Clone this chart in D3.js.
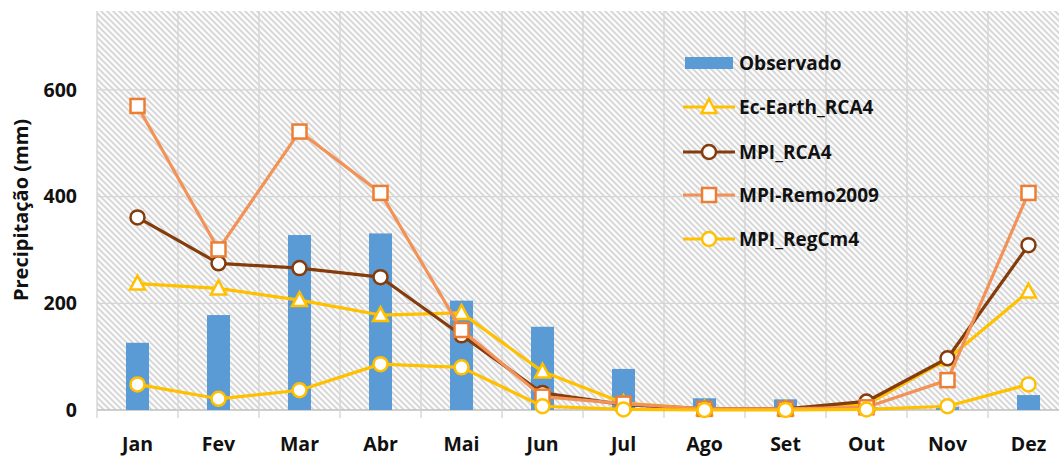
<!DOCTYPE html>
<html><head><meta charset="utf-8">
<script src="https://cdn.jsdelivr.net/npm/d3@7"></script>
<style>body{margin:0;background:#fff}svg{display:block}text{font-family:"Open Sans",sans-serif;font-weight:700;fill:#111}</style>
</head><body><svg id="c" width="1059" height="456"></svg>
<script>
const months = ["Jan","Fev","Mar","Abr","Mai","Jun","Jul","Ago","Set","Out","Nov","Dez"];
const yTicks = [0,200,400,600];
const observado = [126,178,328,331,205,156,77,22,20,5,6,28];
const ecEarth = [237,228,206,178,182,72,13,2,2,10,95,222];
const mpiRca4 = [361,275,266,249,140,32,10,2,2,16,97,309];
const mpiRemo = [570,301,522,407,150,25,12,2,2,5,56,407];
const mpiRegcm = [48,21,37,86,80,7,1,0,0,1,7,48];
const seriesNames = ["Observado","Ec-Earth_RCA4","MPI_RCA4","MPI-Remo2009","MPI_RegCm4"];

const svg = d3.select("#c");
const L=97, R=1069, T=11, B=410;
const x = d3.scaleBand().domain(months).range([L,R]);
const y = d3.scaleLinear().domain([0,748]).range([B,T]);

const defs = svg.append("defs");
const pat = defs.append("pattern").attr("id","hatch").attr("patternUnits","userSpaceOnUse").attr("width",6).attr("height",6);
pat.append("rect").attr("width",6).attr("height",6).attr("fill","#fbfbfb");
pat.append("path").attr("d","M0,0L6,6M-1,5L1,7M5,-1L7,1").attr("stroke","#d4d4d4").attr("stroke-width",1.6);

svg.append("rect").attr("x",L).attr("y",T).attr("width",R-L).attr("height",B-T).attr("fill","url(#hatch)");

svg.append("g").selectAll("line").data(yTicks).join("line")
  .attr("x1",L).attr("x2",R).attr("y1",d=>y(d)).attr("y2",d=>y(d))
  .attr("stroke",d=>d===0?"#bfbfbf":"#d6d6d6").attr("stroke-width",1.3);
svg.append("g").selectAll("line").data(months).join("line")
  .attr("x1",d=>x(d)).attr("x2",d=>x(d)).attr("y1",T).attr("y2",B+8)
  .attr("stroke","#d3d3d3").attr("stroke-width",1.3);

svg.append("g").selectAll("text").data(yTicks).join("text")
  .attr("x",77).attr("y",d=>y(d)).attr("dy","0.35em").attr("text-anchor","end")
  .style("font-size","19.5px").text(d=>d);
svg.append("g").selectAll("text").data(months).join("text")
  .attr("x",d=>x(d)+x.bandwidth()/2).attr("y",444).attr("dy","0.35em").attr("text-anchor","middle")
  .style("font-size","19.5px").text(d=>d);
svg.append("text").attr("transform","translate(21,210) rotate(-90)").attr("text-anchor","middle").attr("dy","0.35em")
  .style("font-size","20px").text("Precipitação (mm)");

const bw = 23;
svg.append("g").selectAll("rect").data(observado).join("rect")
  .attr("x",(d,i)=>x(months[i])+x.bandwidth()/2-bw/2).attr("width",bw)
  .attr("y",d=>y(d)).attr("height",d=>B-y(d)).attr("fill","#5b9bd5");

const lineSeries = [
  {name:seriesNames[1], data:ecEarth, color:"#ffc000", stroke:"#ffc000", shape:"tri"},
  {name:seriesNames[2], data:mpiRca4, color:"#843c0c", stroke:"#843c0c", shape:"circ"},
  {name:seriesNames[3], data:mpiRemo, color:"#f29257", stroke:"#ed7d31", shape:"sq"},
  {name:seriesNames[4], data:mpiRegcm, color:"#ffc000", stroke:"#ffc000", shape:"circ"}
];
function marker(g, s, cx, cy){
  if(s.shape==="circ") g.append("circle").attr("cx",cx).attr("cy",cy).attr("r",7).attr("fill","#fff").attr("stroke",s.stroke).attr("stroke-width",2.5);
  else if(s.shape==="sq") g.append("rect").attr("x",cx-7).attr("y",cy-7).attr("width",14).attr("height",14).attr("fill","#fff").attr("stroke",s.stroke).attr("stroke-width",2.5);
  else g.append("path").attr("d",`M${cx},${cy-8}L${cx+7.5},${cy+6}L${cx-7.5},${cy+6}Z`).attr("fill","#fff").attr("stroke",s.stroke).attr("stroke-width",2.5);
}
const line = d3.line().x((d,i)=>x(months[i])+x.bandwidth()/2).y(d=>y(d));
lineSeries.forEach(s=>{
  const g = svg.append("g");
  g.append("path").datum(s.data).attr("d",line).attr("fill","none").attr("stroke",s.color).attr("stroke-width",3.2).attr("stroke-linejoin","round");
  s.data.forEach((d,i)=>marker(g,s,x(months[i])+x.bandwidth()/2,y(d)));
});

const lg = svg.append("g");
const ly = [63,107,152,195,239];
lg.append("rect").attr("x",685).attr("y",ly[0]-6).attr("width",48).attr("height",12).attr("fill","#5b9bd5");
lg.append("text").attr("x",739).attr("y",ly[0]).attr("dy","0.35em").style("font-size","19px").text(seriesNames[0]);
lineSeries.forEach((s,i)=>{
  const yy = ly[i+1];
  lg.append("line").attr("x1",683).attr("x2",735).attr("y1",yy).attr("y2",yy).attr("stroke",s.color).attr("stroke-width",3.2);
  marker(lg,s,709,yy);
  lg.append("text").attr("x",739).attr("y",yy).attr("dy","0.35em").style("font-size","19px").text(s.name);
});
</script></body></html>
